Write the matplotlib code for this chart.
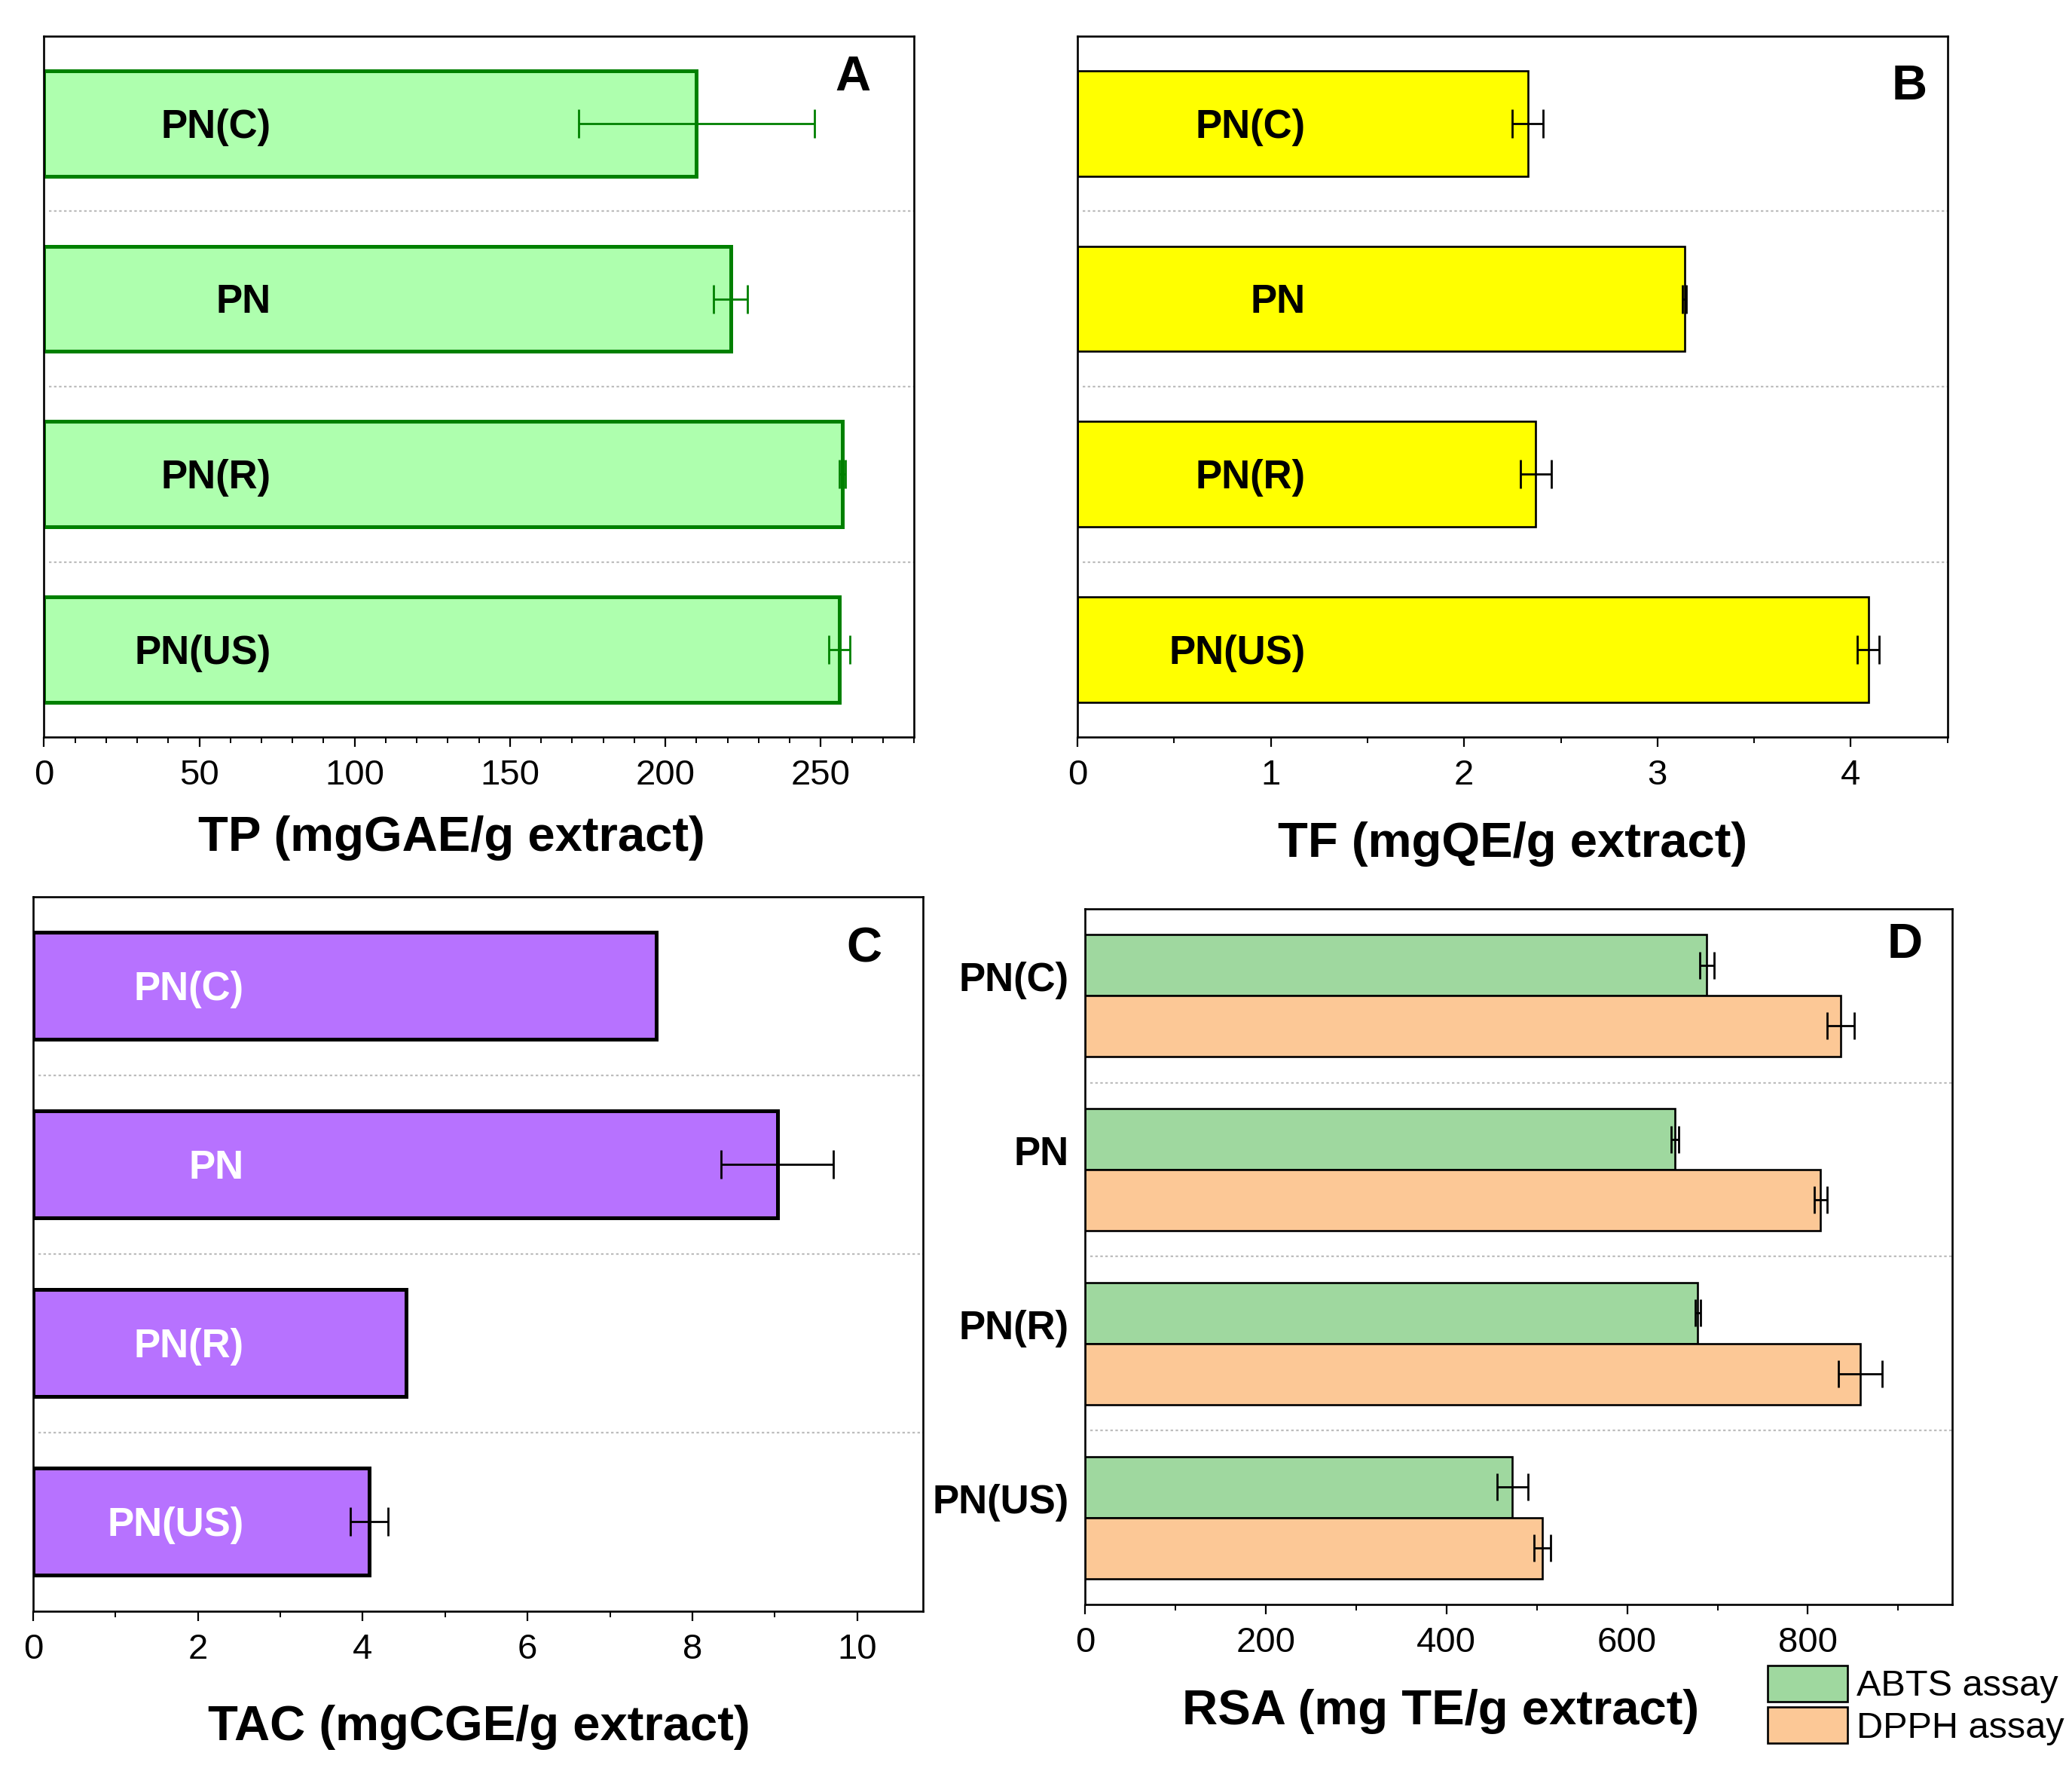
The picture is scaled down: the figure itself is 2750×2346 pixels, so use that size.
import numpy as np
import matplotlib
matplotlib.use("Agg")
import matplotlib.pyplot as plt
from matplotlib.ticker import MultipleLocator
from matplotlib.patches import Patch

plt.rcParams['font.family'] = ['Liberation Sans', 'DejaVu Sans']

categories = ["PN(C)", "PN", "PN(R)", "PN(US)"]

tp = [210, 221, 257, 256]
tp_err = [38, 5.5, 1.0, 3.5]

tf = [2.33, 3.14, 2.37, 4.09]
tf_err = [0.08, 0.01, 0.08, 0.055]

tac = [7.56, 9.03, 4.53, 4.08]
tac_err = [0.0, 0.68, 0.0, 0.23]

abts = [688, 653, 678, 473]
abts_err = [8, 4, 3, 17]
dpph = [836, 814, 858, 506]
dpph_err = [15, 7, 24, 9]

fig = plt.figure(figsize=(27.5, 23.46), dpi=100)

TICK_FS = 34
LABEL_FS = 47
BAR_FS = 38
LETTER_FS = 47
SPINE_LW = 1.9
GRID_COLOR = '#bdbdbd'


def style_axes(ax, xlim, major, minor):
    ax.set_xlim(*xlim)
    ax.set_ylim(3.5, -0.5)
    for s in ax.spines.values():
        s.set_linewidth(SPINE_LW)
    ax.xaxis.set_major_locator(MultipleLocator(major))
    ax.xaxis.set_minor_locator(MultipleLocator(minor))
    ax.tick_params(axis='x', which='major', direction='out', length=9, width=1.6,
                   labelsize=TICK_FS, pad=12, top=False)
    ax.tick_params(axis='x', which='minor', direction='out', length=6, width=1.4, top=False)
    ax.tick_params(axis='y', which='both', left=False, right=False, labelleft=False)
    for yv in [0.5, 1.5, 2.5]:
        ax.axhline(yv, xmin=0.006, xmax=1, color=GRID_COLOR, linestyle=(0, (1.5, 1.5)),
                   linewidth=1.6, zorder=0)


def single_panel(rect, vals, errs, face, edge, elw, ecol, xlim, major, minor,
                 xlabel, label_x, label_color, letter, letter_pos, xlab_pos):
    ax = fig.add_axes(rect)
    y = np.arange(len(categories))
    ax.barh(y, vals, height=0.6, color=face, edgecolor=edge, linewidth=elw, zorder=2)
    errs = np.asarray(errs)
    m = errs > 0
    ax.errorbar(np.asarray(vals)[m], y[m], xerr=errs[m], fmt='none', ecolor=ecol,
                elinewidth=2.0, capsize=14, capthick=2.0, zorder=3)
    for yi, c in zip(y, categories):
        ax.text(label_x, yi + 0.02, c, ha='right', va='center', fontsize=BAR_FS,
                fontweight='bold', color=label_color, zorder=4)
    style_axes(ax, xlim, major, minor)
    ax.set_xlabel(xlabel, fontsize=LABEL_FS, fontweight='bold', va='center')
    ax.xaxis.set_label_coords(*xlab_pos)
    ax.text(letter_pos[0], letter_pos[1], letter, transform=ax.transAxes, ha='center',
            va='center', fontsize=LETTER_FS, fontweight='bold')
    return ax


# Panel A
single_panel([0.0212, 0.583, 0.4199, 0.3967], tp, tp_err, '#aeffae', '#008000', 3.6, '#008000',
             (0, 280), 50, 10, 'TP (mgGAE/g extract)', 73, 'black', 'A', (0.93, 0.941),
             (0.469, -0.144))

# Panel B
single_panel([0.520, 0.583, 0.4199, 0.3967], tf, tf_err, '#ffff00', 'black', 1.9, 'black',
             (0, 4.5), 1, 0.5, 'TF (mgQE/g extract)', 1.18, 'black', 'B', (0.956, 0.928),
             (0.50, -0.152))

# Panel C
single_panel([0.016, 0.0887, 0.4295, 0.4042], tac, tac_err, '#b772ff', 'black', 3.6, 'black',
             (0, 10.8), 2, 1, 'TAC (mgCGE/g extract)', 2.56, 'white', 'C', (0.934, 0.926),
             (0.501, -0.162))

# Panel D
axd = fig.add_axes([0.5237, 0.0924, 0.4186, 0.3937])
y = np.arange(len(categories))
h = 0.35
axd.barh(y - h / 2, abts, height=h, color='#9fd89f', edgecolor='black', linewidth=1.9, zorder=2,
         label='ABTS assay')
axd.barh(y + h / 2, dpph, height=h, color='#fcc896', edgecolor='black', linewidth=1.9, zorder=2,
         label='DPPH assay')
axd.errorbar(abts, y - h / 2, xerr=abts_err, fmt='none', ecolor='black', elinewidth=2.0,
             capsize=13, capthick=2.0, zorder=3)
axd.errorbar(dpph, y + h / 2, xerr=dpph_err, fmt='none', ecolor='black', elinewidth=2.0,
             capsize=13, capthick=2.0, zorder=3)
style_axes(axd, (0, 960), 200, 100)
axd.tick_params(axis='y', which='both', left=False, labelleft=True, pad=12, labelsize=BAR_FS)
axd.set_yticks(y - 0.11)
axd.set_yticklabels(categories, fontweight='bold')
axd.set_xlabel('RSA (mg TE/g extract)', fontsize=LABEL_FS, fontweight='bold', va='center')
axd.xaxis.set_label_coords(0.41, -0.153)
axd.text(0.945, 0.948, 'D', transform=axd.transAxes, ha='center', va='center',
         fontsize=LETTER_FS, fontweight='bold')

handles = [Patch(facecolor='#9fd89f', edgecolor='black', linewidth=1.9),
           Patch(facecolor='#fcc896', edgecolor='black', linewidth=1.9)]
fig.legend(handles, ['ABTS assay', 'DPPH assay'], loc='upper left',
           bbox_to_anchor=(0.853, 0.0579), frameon=False, fontsize=35,
           handlelength=2.18, handleheight=1.13, labelspacing=0.1, handletextpad=0.25,
           borderpad=0, borderaxespad=0)

fig.savefig('out.png', dpi=100)
